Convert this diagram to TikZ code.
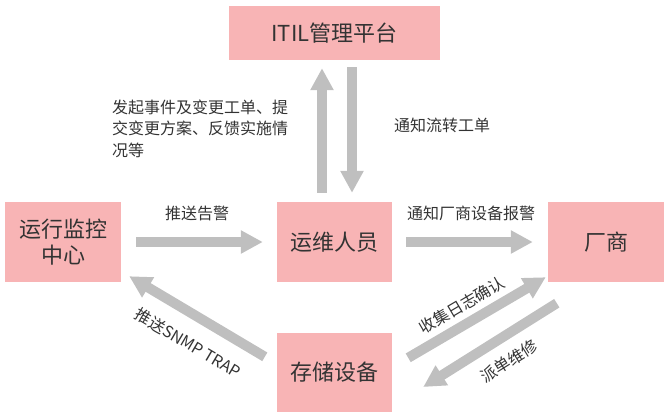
\documentclass[tikz,border=0pt]{standalone}
\usepackage{fontspec}
\setmainfont{Noto Sans CJK SC}
\usetikzlibrary{arrows.meta,calc}
\definecolor{boxpink}{HTML}{F8B4B5}
\definecolor{arrgray}{HTML}{BFBFBF}
\definecolor{txt}{HTML}{333333}
\begin{document}
\begin{tikzpicture}[x=1pt,y=-1pt,
  box/.style={fill=boxpink,draw=none,inner sep=0pt,text=txt,font=\fontsize{22}{26}\selectfont,align=center},
  blk/.style={draw=arrgray,line width=10pt,-{Triangle[width=22pt,length=22pt]}},
  lbl/.style={text=txt,inner sep=0pt,font=\fontsize{16}{21.5}\selectfont}]
\useasboundingbox (0,0) rectangle (671,415);
% nodes
\node[box,minimum width=211pt,minimum height=54pt] (itil) at (334.5,33) {ITIL管理平台};
\node[box,minimum width=116pt,minimum height=80pt] (jk) at (63,242) {运行监控\\中心};
\node[box,minimum width=115pt,minimum height=80pt] (ops) at (334.5,242) {运维人员};
\node[box,minimum width=116pt,minimum height=80pt] (vendor) at (606,242) {厂商};
\node[box,minimum width=115pt,minimum height=79pt] (stor) at (334.5,372.5) {存储设备};
% arrows
\draw[blk,shorten <=9pt,shorten >=8pt] ([xshift=-12.5pt]ops.north) -- ([xshift=-12.5pt]itil.south);
\draw[blk,shorten <=7pt,shorten >=9pt] ([xshift=17.5pt]itil.south) -- ([xshift=17.5pt]ops.north);
\draw[blk,shorten <=15pt,shorten >=14pt] (jk.east) -- (ops.west);
\draw[blk,shorten <=14pt,shorten >=15pt] (ops.east) -- (vendor.west);
\draw[blk] ($(stor.north west)+(-12,24)$) -- ($(jk.south east)+(8,-6)$);
\draw[blk] ($(stor.north east)+(16,25)$) -- ($(vendor.south west)+(-2,-5)$);
\draw[blk] ($(vendor.south west)+(9,21)$) -- ($(stor.east)+(31,14.5)$);
% labels
\node[lbl,anchor=west,align=left] (l1) at (112,128.5) {发起事件及变更工单、提\\交变更方案、反馈实施情\\况等};
\node[lbl] (l2) at (442,125) {通知流转工单};
\node[lbl] (l3) at (197,213) {推送告警};
\node[lbl] (l4) at (471,213) {通知厂商设备报警};
\node[lbl,rotate=-30.5] (l5) at (188,343) {推送SNMP TRAP};
\node[lbl,rotate=30.5] (l6) at (462,305) {收集日志确认};
\node[lbl,rotate=32] (l7) at (509,361) {派单维修};
\end{tikzpicture}
\end{document}
